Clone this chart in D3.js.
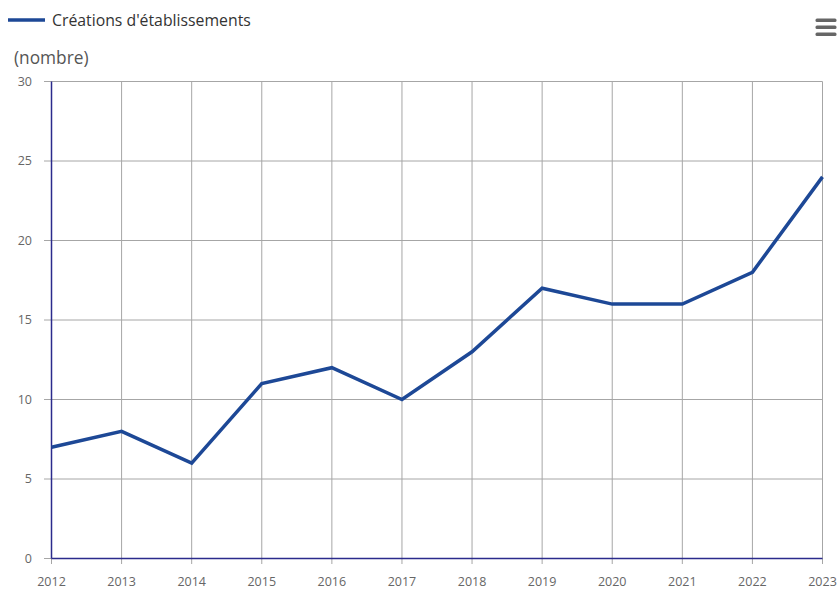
<!DOCTYPE html>
<html><head><meta charset="utf-8">
<script src="https://cdn.jsdelivr.net/npm/d3@7"></script>
<style>body{margin:0;background:#fff}svg{display:block;font-family:"Open Sans",sans-serif}</style>
</head><body><svg id="c" width="840" height="594"></svg>
<script>
const years = ["2012","2013","2014","2015","2016","2017","2018","2019","2020","2021","2022","2023"];
const creations = [7,8,6,11,12,10,13,17,16,16,18,24];
const yTicks = [0,5,10,15,20,25,30];
const seriesName = "Créations d'établissements";
const unitLabel = "(nombre)";

const svg = d3.select("#c");
const x = d3.scalePoint().domain(years).range([51.5, 822.5]);
const y = d3.scaleLinear().domain([0,30]).range([558.5, 81.5]);

// grid
const g = svg.append("g");
g.selectAll("line.h").data(yTicks).join("line")
  .attr("x1", 44).attr("x2", 822.5).attr("y1", d=>y(d)).attr("y2", d=>y(d))
  .attr("stroke", "#a6a6a6").attr("stroke-width", 1);
g.selectAll("line.v").data(years).join("line")
  .attr("x1", d=>x(d)).attr("x2", d=>x(d)).attr("y1", 81.5).attr("y2", 564)
  .attr("stroke", "#a6a6a6").attr("stroke-width", 1);

// y labels
svg.append("g").selectAll("text").data(yTicks).join("text")
  .attr("x", 32).attr("y", d=>y(d)+4).attr("text-anchor","end")
  .attr("font-size", 12.5).attr("fill", "#666").text(d=>d);
// x labels
svg.append("g").selectAll("text").data(years).join("text")
  .attr("x", d=>x(d)).attr("y", 586).attr("text-anchor","middle")
  .attr("font-size", 12.5).attr("fill", "#666").text(d=>d);

// axes lines
svg.append("line").attr("x1",51.5).attr("x2",51.5).attr("y1",81.5).attr("y2",558.5)
  .attr("stroke","#2b2b8c").attr("stroke-width",1.5);
svg.append("line").attr("x1",51.5).attr("x2",822.5).attr("y1",558.5).attr("y2",558.5)
  .attr("stroke","#2b2b8c").attr("stroke-width",1.5);

// series
const line = d3.line().x((d,i)=>x(years[i])).y(d=>y(d));
svg.append("path").datum(creations).attr("d", line)
  .attr("fill","none").attr("stroke","#1d4896").attr("stroke-width",3.5)
  .attr("stroke-linejoin","miter");

// unit label
svg.append("text").attr("x", 14).attr("y", 64).attr("font-size", 17.3).attr("fill","#555").text(unitLabel);

// legend
svg.append("line").attr("x1",8).attr("x2",45).attr("y1",20).attr("y2",20)
  .attr("stroke","#1d4896").attr("stroke-width",3.5);
svg.append("text").attr("x",52).attr("y",25.5).attr("font-size",15.8).attr("fill","#333").text(seriesName);

// menu icon
svg.append("g").selectAll("rect").data([0,1,2]).join("rect")
  .attr("x", 815.5).attr("y", d=>18.5+d*7).attr("width", 21).attr("height", 3.5).attr("rx",1.5)
  .attr("fill","#666");
</script></body></html>
